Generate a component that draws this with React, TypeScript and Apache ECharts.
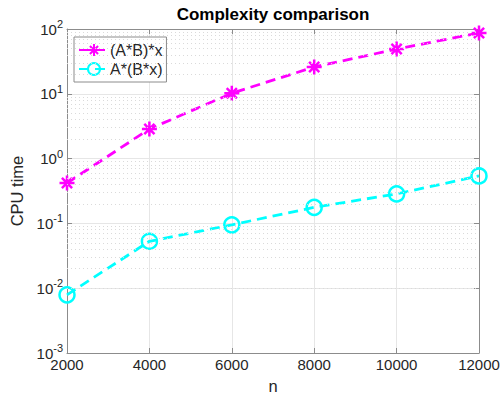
import React, { useEffect, useRef } from "react";
import * as echarts from "echarts";

const nValues = [2000, 4000, 6000, 8000, 10000, 12000];
const abxTimes = [0.42, 2.86, 10.2, 25.9, 49, 87];
const abxSeriesName = "(A*B)*x";
const bxTimes = [0.0079, 0.053, 0.095, 0.177, 0.285, 0.54];
const bxSeriesName = "A*(B*x)";
const minorGridValues: number[] = [];
for (let k = -3; k <= 1; k++) {
  for (let m = 2; m <= 9; m++) minorGridValues.push(m * Math.pow(10, k));
}

const textColor = "#262626";
const axisColor = "#8c8c8c";
const font = "'Liberation Sans', Arial, Helvetica, sans-serif";
const asterisk = "path://M0 5 L10 5 M5 0 L5 10 M1.6 1.6 L8.4 8.4 M8.4 1.6 L1.6 8.4";

export default function App() {
  const ref = useRef<HTMLDivElement>(null);
  useEffect(() => {
    document.body.style.margin = "0";
    const chart = echarts.init(ref.current!, null, { renderer: "svg" });
    const pairs = (ys: number[]) => nValues.map((x, i) => [x, ys[i]]);
    chart.setOption({
      animation: false,
      backgroundColor: "#ffffff",
      textStyle: { fontFamily: font },
      title: {
        text: "Complexity comparison",
        left: 273,
        top: 6,
        textAlign: "center",
        padding: 0,
        textStyle: { fontSize: 17, fontWeight: "bold", color: "#000", fontFamily: font },
      },
      grid: { left: 67, right: 21, top: 29, bottom: 43, containLabel: false, outerBoundsMode: "none" },
      legend: {
        left: 74,
        top: 37,
        orient: "vertical",
        padding: [5, 4, 5, 4],
        itemGap: 3,
        itemWidth: 30,
        itemHeight: 15,
        borderColor: axisColor,
        borderWidth: 1,
        backgroundColor: "#fff",
        textStyle: { fontSize: 16, color: textColor, fontFamily: font, padding: [0, 0, 0, -4] },
        data: [abxSeriesName, bxSeriesName],
      },
      xAxis: [
        {
          type: "value",
          min: 2000,
          max: 12000,
          interval: 2000,
          name: "n",
          nameLocation: "middle",
          nameGap: 24,
          nameTextStyle: { fontSize: 16.5, color: textColor, lineHeight: 17 },
          axisLine: { show: true, lineStyle: { color: axisColor } },
          axisTick: { show: true, inside: true, length: 5, lineStyle: { color: axisColor } },
          axisLabel: { fontSize: 15, color: textColor, margin: 4, formatter: (v: number) => String(v) },
          splitLine: { show: true, lineStyle: { color: "#e6e6e6", width: 1 } },
        },
        {
          type: "value",
          position: "top",
          min: 2000,
          max: 12000,
          interval: 2000,
          axisLine: { show: true, lineStyle: { color: axisColor } },
          axisTick: { show: true, inside: true, length: 5, lineStyle: { color: axisColor } },
          axisLabel: { show: false },
          splitLine: { show: false },
        },
      ],
      yAxis: [
        {
          type: "log",
          logBase: 10,
          min: 0.001,
          max: 100,
          name: "CPU time",
          nameLocation: "middle",
          nameRotate: 90,
          nameGap: 38,
          nameTextStyle: { fontSize: 16.5, color: textColor },
          axisLine: { show: true, lineStyle: { color: axisColor } },
          axisTick: { show: true, inside: true, length: 5, lineStyle: { color: axisColor } },
          axisLabel: {
            fontSize: 15,
            color: textColor,
            margin: 4,
            formatter: (v: number) => "10{sup|" + Math.round(Math.log10(v)) + "}",
            rich: {
              sup: { fontSize: 11, color: textColor, padding: [0, 0, 10, 0], fontFamily: font },
            },
          },
          splitLine: { show: true, lineStyle: { color: "#e6e6e6", width: 1 } },
        },
        {
          type: "log",
          logBase: 10,
          min: 0.001,
          max: 100,
          position: "right",
          axisLine: { show: true, lineStyle: { color: axisColor } },
          axisTick: { show: true, inside: true, length: 5, lineStyle: { color: axisColor } },
          axisLabel: { show: false },
          splitLine: { show: false },
        },
      ],
      series: [
        {
          name: "minor-grid",
          type: "line",
          data: [],
          silent: true,
          markLine: {
            silent: true,
            symbol: "none",
            label: { show: false },
            lineStyle: { type: [1, 3], color: "#dadada", width: 1 },
            data: minorGridValues.map((v) => ({ yAxis: v })),
          },
        },
        {
          name: abxSeriesName,
          type: "line",
          data: pairs(abxTimes),
          symbol: asterisk,
          symbolSize: 15,
          itemStyle: { color: "#ff00ff", borderColor: "#ff00ff", borderWidth: 2.5 },
          lineStyle: { color: "#ff00ff", width: 2.8, type: [10, 6] },
        },
        {
          name: bxSeriesName,
          type: "line",
          data: pairs(bxTimes),
          symbol: "circle",
          symbolSize: 15,
          itemStyle: { color: "transparent", borderColor: "#00ffff", borderWidth: 2.5 },
          lineStyle: { color: "#00ffff", width: 2.8, type: [10, 6] },
        },
      ],
    });
    return () => chart.dispose();
  }, []);
  return <div ref={ref} style={{ width: 500, height: 396 }} />;
}
